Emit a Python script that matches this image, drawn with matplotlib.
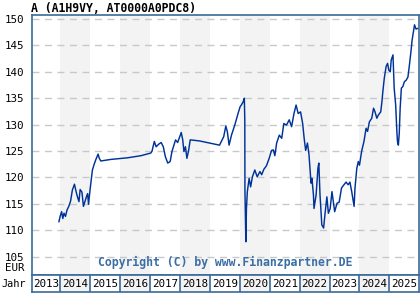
"""Fund price chart A (A1H9VY, AT0000A0PDC8), Finanzpartner style."""

import matplotlib
matplotlib.use("Agg")
import matplotlib.pyplot as plt

TITLE = "A (A1H9VY, AT0000A0PDC8)"
COPYRIGHT = "Copyright (C) by www.Finanzpartner.DE"

YEAR_LABELS = [2013, 2014, 2015, 2016, 2017, 2018, 2019,
               2020, 2021, 2022, 2023, 2024, 2025]
Y_TICKS = [105, 110, 115, 120, 125, 130, 135, 140, 145, 150]

# price series (decimal year, EUR)
dates = [
    2013.95, 2013.99, 2014.04, 2014.08, 2014.12, 2014.17, 2014.22, 2014.28,
    2014.34, 2014.40, 2014.47, 2014.52, 2014.57, 2014.62, 2014.66, 2014.72,
    2014.77, 2014.82, 2014.88, 2014.91, 2014.94, 2014.99, 2015.07, 2015.13,
    2015.18, 2015.26, 2015.30, 2015.35, 2015.69, 2016.24, 2016.69, 2017.02,
    2017.06, 2017.14, 2017.20, 2017.29, 2017.37, 2017.44, 2017.51, 2017.59,
    2017.67, 2017.73, 2017.85, 2017.92, 2018.04, 2018.09, 2018.13, 2018.18,
    2018.23, 2018.29, 2018.34, 2018.65, 2018.99, 2019.32, 2019.46, 2019.53,
    2019.58, 2019.64, 2019.72, 2019.83, 2019.94, 2020.01, 2020.05, 2020.11,
    2020.15, 2020.165, 2020.17, 2020.20, 2020.22, 2020.25, 2020.31, 2020.36,
    2020.42, 2020.50, 2020.58, 2020.67, 2020.73, 2020.80, 2020.89, 2020.98,
    2021.06, 2021.12, 2021.17, 2021.23, 2021.32, 2021.40, 2021.47, 2021.56,
    2021.65, 2021.73, 2021.81, 2021.88, 2021.95, 2022.03, 2022.10, 2022.15,
    2022.20, 2022.26, 2022.31, 2022.35, 2022.38, 2022.41, 2022.46, 2022.48,
    2022.55, 2022.61, 2022.64, 2022.68, 2022.74, 2022.80, 2022.85, 2022.91,
    2022.96, 2023.02, 2023.08, 2023.17, 2023.25, 2023.32, 2023.40, 2023.48,
    2023.55, 2023.62, 2023.68, 2023.74, 2023.82, 2023.85, 2023.91, 2023.96,
    2024.00, 2024.07, 2024.15, 2024.22, 2024.27, 2024.33, 2024.41, 2024.47,
    2024.52, 2024.58, 2024.63, 2024.71, 2024.75, 2024.78, 2024.83, 2024.89,
    2024.94, 2024.98, 2025.03, 2025.06, 2025.12, 2025.16, 2025.21, 2025.25,
    2025.27, 2025.30, 2025.33, 2025.36, 2025.40, 2025.45, 2025.50, 2025.56,
    2025.62, 2025.67, 2025.72, 2025.76, 2025.81, 2025.84, 2025.89, 2025.94,
]
prices = [
    111.6, 112.6, 113.5, 112.2, 113.2, 112.6, 113.8, 114.5,
    115.5, 117.6, 118.7, 117.4, 116.3, 115.4, 117.7, 117.2,
    114.5, 115.4, 116.5, 116.9, 114.9, 117.6, 121.4, 122.5,
    123.3, 124.4, 123.6, 123.1, 123.4, 123.7, 124.1, 124.6,
    124.9, 126.8, 125.8, 126.3, 126.6, 125.8, 123.9, 122.7,
    123.0, 124.9, 127.1, 126.6, 128.5, 127.1, 124.9, 125.8,
    123.6, 125.2, 127.1, 126.9, 126.5, 126.1, 127.7, 129.7,
    128.7, 126.1, 128.0, 129.9, 132.1, 133.4, 133.7, 134.3,
    135.0, 130.9, 117.6, 107.8, 114.1, 117.3, 119.8, 118.2,
    120.1, 121.4, 120.1, 121.1, 120.5, 121.5, 122.2, 123.6,
    125.1, 125.2, 124.1, 126.5, 128.0, 127.4, 130.2, 129.9,
    130.9, 129.6, 132.1, 133.7, 132.1, 132.4, 130.2, 127.4,
    125.1, 126.5, 124.4, 121.1, 118.9, 119.8, 116.7, 114.1,
    116.7, 121.7, 122.7, 116.7, 111.0, 110.4, 113.2, 116.3,
    113.2, 114.1, 117.3, 113.5, 115.1, 115.3, 118.0, 118.6,
    119.1, 118.6, 119.1, 117.3, 114.5, 118.0, 121.7, 123.0,
    122.3, 124.9, 126.8, 129.3, 128.7, 130.5, 131.2, 133.1,
    132.4, 131.2, 131.8, 132.4, 134.3, 136.2, 138.8, 141.0,
    141.6, 140.3, 140.0, 142.2, 143.2, 136.9, 133.7, 128.7,
    126.8, 126.1, 128.4, 133.1, 136.9, 137.2, 138.1, 138.4,
    139.0, 141.3, 143.8, 146.0, 147.9, 148.9, 148.1, 148.2,
]

FRAME = "#3d6a9a"
LINE = "#003399"
SHADE = "#f3f3f3"
MONO = "DejaVu Sans Mono"

W, H = 420, 300
X0, X1 = 2013.05, 2026.0

fig = plt.figure(figsize=(W / 100, H / 100), dpi=100)

# main plot area
ax = fig.add_axes([32 / W, 1 - 275 / H, (419.3 - 32) / W, (275 - 15.3) / H])
ax.set_xlim(X0, X1)
ax.set_ylim(101.5, 150.7)
for yr in YEAR_LABELS:
    if yr % 2 == 0:
        ax.axvspan(yr, yr + 1, color=SHADE, lw=0, zorder=0)
for y in Y_TICKS:
    ax.axhline(y, color="#c8c8c8", lw=1.0, ls=(0, (5, 4)), zorder=1)
ax.plot(dates, prices, color=LINE, lw=1.05, zorder=3)
ax.set_xticks([])
ax.set_yticks(Y_TICKS)
ax.set_yticklabels([str(v) for v in Y_TICKS], family=MONO, fontsize=7.8)
ax.tick_params(axis="y", length=0, pad=5.5)
for s in ax.spines.values():
    s.set_color(FRAME)
    s.set_linewidth(1.2)
ax.text(0.5, 0.025, COPYRIGHT, transform=ax.transAxes, ha="center", va="bottom",
        family=MONO, fontsize=8.3, fontweight="bold", color="#3a6ea5")

# year strip
yx = fig.add_axes([32 / W, 1 - 292 / H, (419.3 - 32) / W, 17 / H])
yx.set_xlim(X0, X1)
yx.set_ylim(0, 1)
yx.set_xticks([])
yx.set_yticks([])
for yr in YEAR_LABELS:
    if yr % 2 == 0:
        yx.axvspan(yr, yr + 1, color=SHADE, lw=0, zorder=0)
    if yr > YEAR_LABELS[0]:
        yx.axvline(yr, color=FRAME, lw=1.2)
    mid = (max(yr, X0) + yr + 1) / 2
    yx.text(mid, 0.45, str(yr), ha="center", va="center",
            family=MONO, fontsize=7.8)
for s in yx.spines.values():
    s.set_color(FRAME)
    s.set_linewidth(1.2)

fig.text(31 / W, 1 - 8 / H, TITLE, ha="left", va="center",
         family=MONO, fontsize=8.3, fontweight="bold")
fig.text(24 / W, 1 - 268 / H, "EUR", ha="right", va="center",
         family=MONO, fontsize=7.8)
fig.text(1.5 / W, 1 - 284 / H, "Jahr", ha="left", va="center",
         family=MONO, fontsize=7.4)

fig.savefig("out.png", dpi=100)
plt.close(fig)
